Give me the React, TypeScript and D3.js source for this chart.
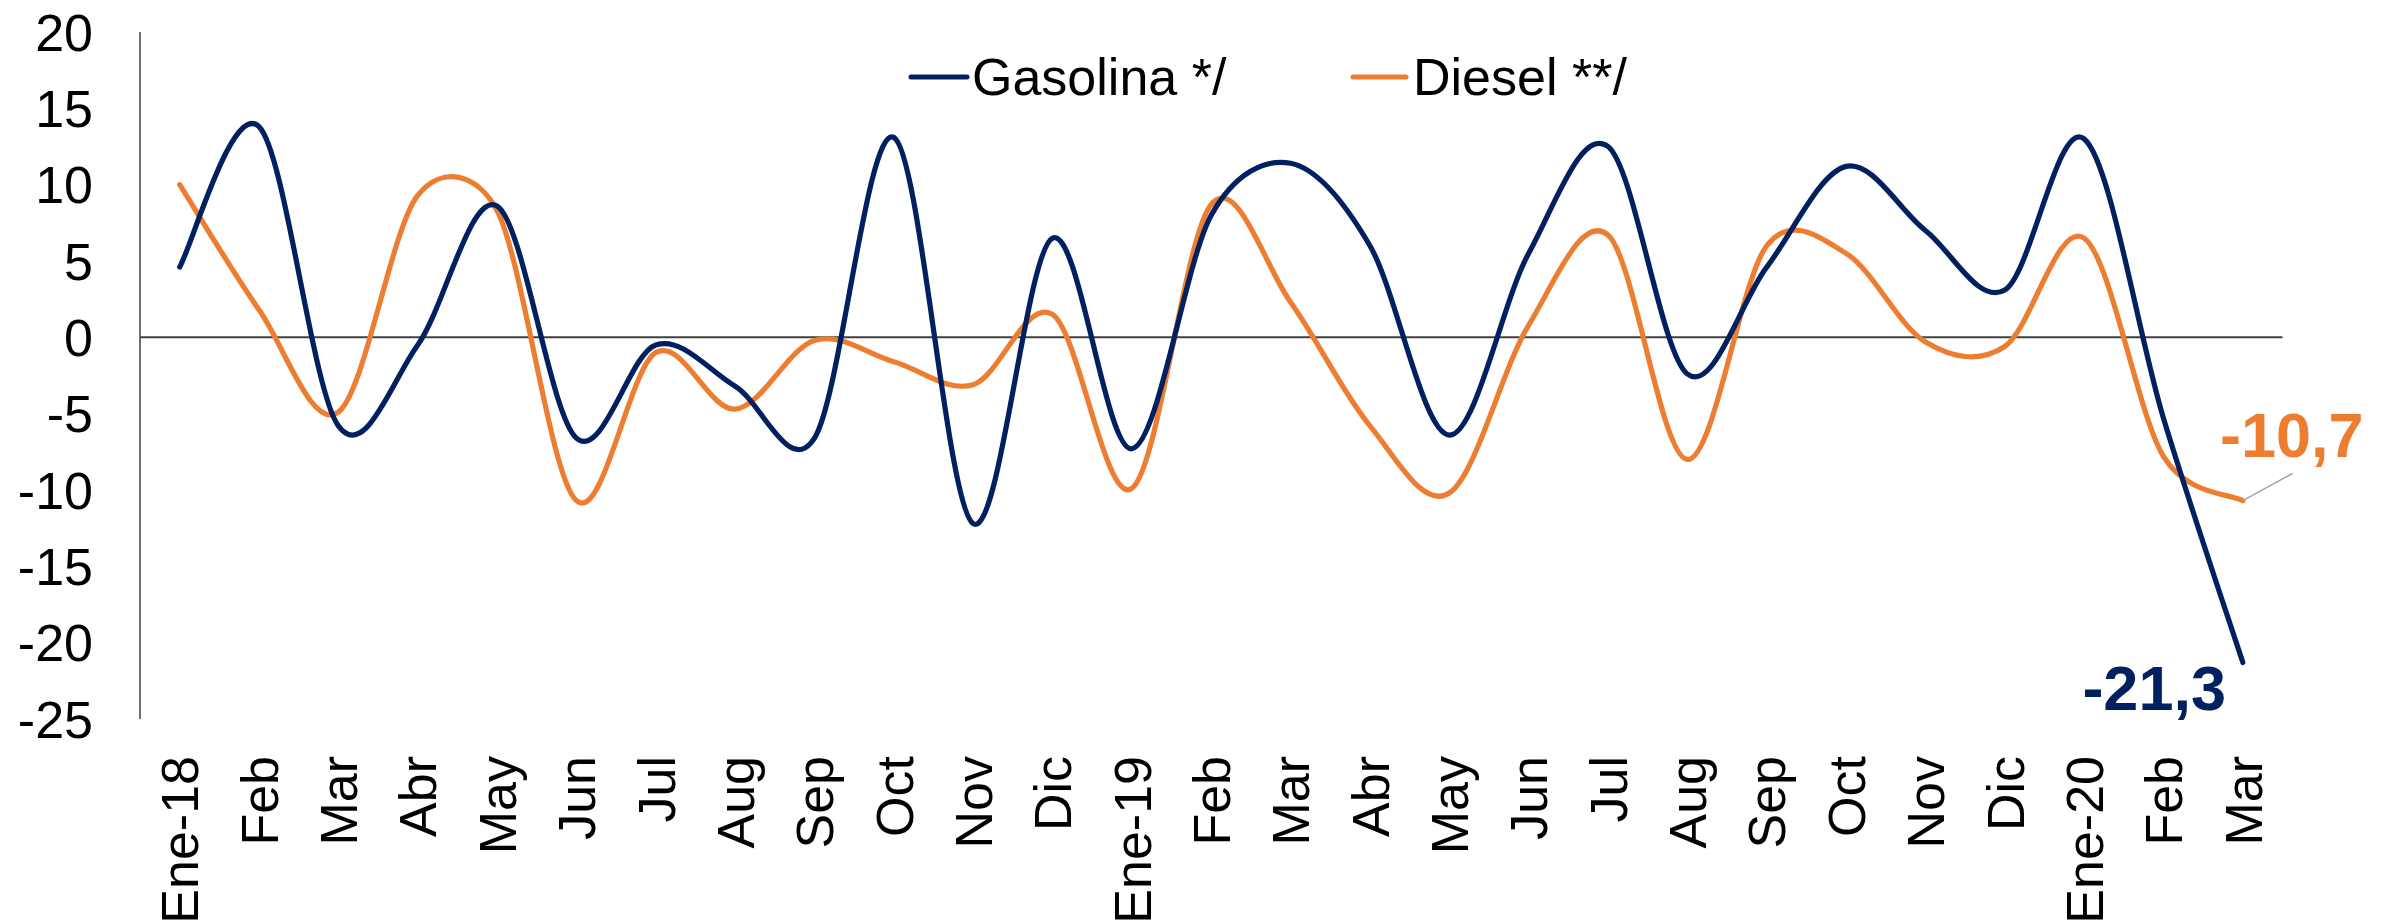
import React from "react";
import * as d3 from "d3";

// Monthly categories, Jan-2018 to Mar-2020
const categories = [
  "Ene-18", "Feb", "Mar", "Abr", "May", "Jun", "Jul", "Aug", "Sep", "Oct", "Nov", "Dic",
  "Ene-19", "Feb", "Mar", "Abr", "May", "Jun", "Jul", "Aug", "Sep", "Oct", "Nov", "Dic",
  "Ene-20", "Feb", "Mar",
];

const gasolina = [
  4.6, 13.8, -5.8, -0.5, 8.6, -6.6, -0.5, -3.2, -6.6, 13.1, -12.2, 6.5,
  -7.3, 8.0, 11.4, 6.0, -6.4, 5.5, 12.5, -2.4, 4.6, 11.2, 7.0, 3.1,
  13.0, -5.3, -21.3,
];

const diesel = [
  10.0, 1.8, -4.9, 9.3, 8.3, -10.7, -1.0, -4.7, -0.2, -1.6, -3.1, 1.5,
  -9.9, 8.7, 2.3, -5.8, -10.2, 0.8, 6.7, -8.0, 6.0, 5.5, -0.3, -0.6,
  6.5, -7.8, -10.7,
];

const yTicks = [20, 15, 10, 5, 0, -5, -10, -15, -20, -25];

const seriesNames = ["Gasolina */", "Diesel **/"];

const NAVY = "#002060";
const ORANGE = "#ED7D31";
const FONT = "'Liberation Sans', Arial, Helvetica, sans-serif";

type Pt = [number, number];

// Spreadsheet-style smoothed line: cubic Bezier segments whose control
// points sit 1/6 of the neighbour chord away, limited to half the segment.
function smoothPath(pts: Pt[]): string {
  const p = d3.path();
  if (!pts.length) return "";
  p.moveTo(pts[0][0], pts[0][1]);
  const dist = (a: Pt, b: Pt) => Math.hypot(b[0] - a[0], b[1] - a[1]);
  for (let i = 0; i < pts.length - 1; i++) {
    const p0 = pts[Math.max(0, i - 1)];
    const p1 = pts[i];
    const p2 = pts[i + 1];
    const p3 = pts[Math.min(pts.length - 1, i + 2)];
    const d12 = dist(p1, p2);
    const d02 = dist(p0, p2);
    const d13 = dist(p1, p3);
    let f1 = 1 / 6;
    let f2 = 1 / 6;
    if (d02 > 0 && d02 / 6 > d12 / 2) f1 = d12 / 2 / d02;
    if (d13 > 0 && d13 / 6 > d12 / 2) f2 = d12 / 2 / d13;
    const c1x = p1[0] + (p2[0] - p0[0]) * f1;
    const c1y = p1[1] + (p2[1] - p0[1]) * f1;
    const c2x = p2[0] - (p3[0] - p1[0]) * f2;
    const c2y = p2[1] - (p3[1] - p1[1]) * f2;
    p.bezierCurveTo(c1x, c1y, c2x, c2y, p2[0], p2[1]);
  }
  return p.toString();
}

export default function App() {
  const width = 2389;
  const height = 924;

  const x = d3
    .scaleBand<number>()
    .domain(categories.map((_, i) => i))
    .range([140, 2282.5])
    .padding(0);
  const cx = (i: number) => (x(i) as number) + x.bandwidth() / 2;

  const y = d3.scaleLinear().domain([-25, 20]).range([719, 32]);

  const toPts = (vals: number[]): Pt[] => vals.map((v, i) => [cx(i), y(v)]);

  const lastI = categories.length - 1;
  const fmt = (v: number) => v.toFixed(1).replace(".", ",");

  return (
    <svg
      width={width}
      height={height}
      style={{ position: "absolute", left: 0, top: 0, background: "#fff" }}
      fontFamily={FONT}
    >
      {/* value axis */}
      <line x1={140} x2={140} y1={y(20)} y2={y(-25)} stroke="#404040" strokeWidth={1.5} />
      {yTicks.map((t) => (
        <text
          key={t}
          x={93}
          y={y(t)}
          dy="0.36em"
          textAnchor="end"
          fontSize={52}
          fill="#000"
        >
          {t}
        </text>
      ))}

      {/* zero line */}
      <line x1={140} x2={2282.5} y1={y(0)} y2={y(0)} stroke="#404040" strokeWidth={2} />

      {/* category labels */}
      {categories.map((c, i) => (
        <text
          key={i}
          transform={`translate(${cx(i)},756) rotate(-90)`}
          dy="0.36em"
          textAnchor="end"
          fontSize={52}
          fill="#000"
        >
          {c}
        </text>
      ))}

      {/* series */}
      <path d={smoothPath(toPts(diesel))} fill="none" stroke={ORANGE} strokeWidth={5.2} strokeLinecap="round" strokeLinejoin="round" />
      <path d={smoothPath(toPts(gasolina))} fill="none" stroke={NAVY} strokeWidth={5.2} strokeLinecap="round" strokeLinejoin="round" />

      {/* end labels */}
      <line
        x1={cx(lastI)}
        y1={y(diesel[lastI])}
        x2={2292.5}
        y2={473.5}
        stroke="#a6a6a6"
        strokeWidth={1.5}
      />
      <text x={2220} y={457} fontSize={63} fontWeight="bold" fill={ORANGE}>
        {fmt(diesel[lastI])}
      </text>
      <text x={2226} y={710} textAnchor="end" fontSize={63} fontWeight="bold" fill={NAVY}>
        {fmt(gasolina[lastI])}
      </text>

      {/* legend */}
      <line x1={911} x2={967} y1={77} y2={77} stroke={NAVY} strokeWidth={5} strokeLinecap="round" />
      <text x={972} y={95} fontSize={52} fill="#000">{seriesNames[0]}</text>
      <line x1={1353} x2={1406} y1={77} y2={77} stroke={ORANGE} strokeWidth={5} strokeLinecap="round" />
      <text x={1413} y={95} fontSize={52} fill="#000">{seriesNames[1]}</text>
    </svg>
  );
}
